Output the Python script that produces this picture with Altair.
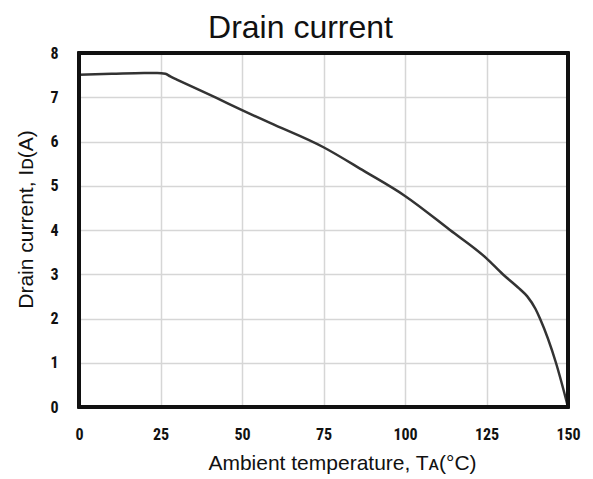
import altair as alt
import pandas as pd

temperature = [0, 10, 20, 24, 26.5, 28, 30, 42, 50, 58.6, 75, 87.5, 100, 113.8, 125, 130, 135, 137.5, 140, 141.4, 146.3, 150]
drain_current = [7.51, 7.53, 7.55, 7.55, 7.53, 7.47, 7.40, 6.99, 6.71, 6.42, 5.87, 5.33, 4.77, 4.0, 3.36, 3.0, 2.68, 2.5, 2.22, 2.0, 1.0, 0.0]
x_ticks = [0, 25, 50, 75, 100, 125, 150]
y_ticks = [0, 1, 2, 3, 4, 5, 6, 7, 8]

df = pd.DataFrame({"T": temperature, "I": drain_current})

label_font = "Liberation Sans Narrow, Roboto Condensed, DejaVu Sans Condensed, Liberation Sans"
title_font = "Liberation Sans, Arial, sans-serif"

W, H = 489, 354

line = alt.Chart(df).mark_line(
    color="#333333", strokeWidth=2.5, interpolate="monotone"
).encode(
    x=alt.X("T:Q", scale=alt.Scale(domain=[0, 150], nice=False),
            axis=alt.Axis(values=x_ticks, title="Ambient temperature, Tᴀ(°C)",
                          ticks=False, domain=False, labelPadding=19, labelFlush=False,
                          labelFont=label_font, labelFontWeight="bold", labelFontSize=16,
                          labelColor="#111111",
                          titleFont=title_font, titleFontWeight="normal", titleFontSize=21,
                          titleColor="#111111", titleBaseline="alphabetic",
                          titleX=263, titleY=62,
                          grid=True, gridColor="#d6d6d6", gridWidth=1.5)),
    y=alt.Y("I:Q", scale=alt.Scale(domain=[0, 8], nice=False),
            axis=alt.Axis(values=y_ticks, title="Drain current, Iᴅ(A)",
                          ticks=False, domain=False, labelPadding=21, labelFlush=False,
                          labelFont=label_font, labelFontWeight="bold", labelFontSize=16,
                          labelColor="#111111",
                          titleFont=title_font, titleFontWeight="normal", titleFontSize=21,
                          titleColor="#111111", titleBaseline="alphabetic",
                          titleAngle=270, titleX=-47, titleY=166,
                          grid=True, gridColor="#d6d6d6", gridWidth=1.5)),
)

frame = alt.Chart(df).mark_rect(
    fillOpacity=0, stroke="#111111", strokeWidth=2.5, strokeOpacity=1
).encode(
    x=alt.value(0), x2=alt.value(W), y=alt.value(0), y2=alt.value(H)
)

chart = alt.layer(line, frame).properties(
    width=W,
    height=H,
    title=alt.TitleParams("Drain current", font=title_font, fontSize=32,
                          fontWeight="normal", color="#111111", anchor="middle",
                          dx=-23, offset=0),
    autosize=alt.AutoSizeParams(type="none"),
    padding={"left": 79, "top": 53, "right": 25, "bottom": 72},
    background="white",
).configure_view(
    stroke=None
)

chart.save("out.html", embed_options={"renderer": "svg", "actions": False})
